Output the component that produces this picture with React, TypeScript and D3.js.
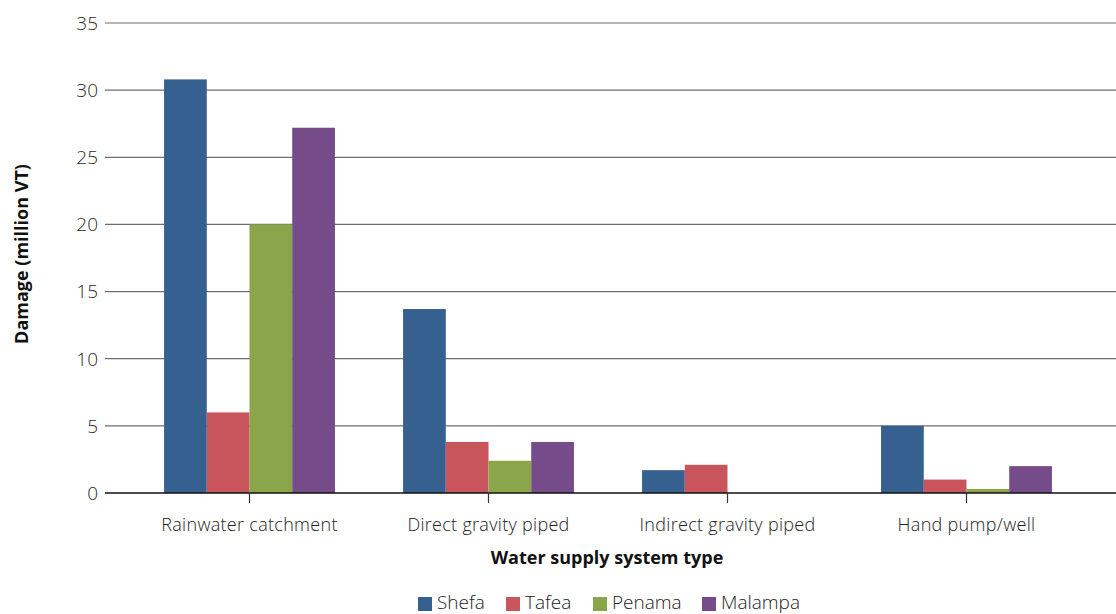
import React from "react";
import * as d3 from "d3";

const categories = [
  "Rainwater catchment",
  "Direct gravity piped",
  "Indirect gravity piped",
  "Hand pump/well",
];
const seriesNames = ["Shefa", "Tafea", "Penama", "Malampa"];
const shefa = [30.8, 13.7, 1.7, 5.0];
const tafea = [6.0, 3.8, 2.1, 1.0];
const penama = [20.0, 2.4, 0, 0.3];
const malampa = [27.2, 3.8, 0, 2.0];
const yTicks = [0, 5, 10, 15, 20, 25, 30, 35];
const colors = ["#36608f", "#c8555c", "#8ba64a", "#754b8a"];

const seriesValues = [shefa, tafea, penama, malampa];

const W = 1116;
const H = 614;
const gridLeft = 105;
const gridRight = 1116;
const plotTop = 23;
const plotBottom = 493;

export default function App() {
  const x0 = d3
    .scaleBand<string>()
    .domain(categories)
    .range([130, 1086])
    .paddingInner(0)
    .paddingOuter(0);
  const groupWidth = x0.bandwidth() * 0.715;
  const x1 = d3
    .scaleBand<string>()
    .domain(seriesNames)
    .range([0, groupWidth])
    .padding(0);
  const y = d3.scaleLinear().domain([0, 35]).range([plotBottom, plotTop]);

  const bodyFont = "'Open Sans', 'Noto Sans', sans-serif";

  return (
    <svg
      width={W}
      height={H}
      style={{ position: "absolute", left: 0, top: 0, background: "#fff" }}
      fontFamily={bodyFont}
    >
      {/* horizontal gridlines and value labels */}
      {yTicks.map((t) => (
        <g key={t}>
          {t !== 0 && (
            <line
              x1={gridLeft}
              x2={gridRight}
              y1={y(t)}
              y2={y(t)}
              stroke="#6f6f6f"
              strokeWidth={1.2}
            />
          )}
          <text
            x={98}
            y={y(t)}
            dy="0.36em"
            textAnchor="end"
            fontSize={19}
            fill="#2a2a2a"
            fontWeight={300}
          >
            {t}
          </text>
        </g>
      ))}

      {/* bars */}
      {categories.map((c, ci) => {
        const cx = (x0(c) as number) + x0.bandwidth() / 2;
        const gx = cx - groupWidth / 2;
        return (
          <g key={c} transform={`translate(${gx},0)`}>
            {seriesNames.map((s, si) => {
              const v = seriesValues[si][ci];
              return (
                <rect
                  key={s}
                  x={x1(s) as number}
                  width={x1.bandwidth()}
                  y={y(v)}
                  height={y(0) - y(v)}
                  fill={colors[si]}
                />
              );
            })}
          </g>
        );
      })}

      {/* baseline and category ticks */}
      <line
        x1={gridLeft}
        x2={gridRight}
        y1={y(0)}
        y2={y(0)}
        stroke="#111"
        strokeWidth={1.3}
      />
      {categories.map((c) => {
        const cx = (x0(c) as number) + x0.bandwidth() / 2;
        return (
          <g key={c}>
            <line
              x1={cx}
              x2={cx}
              y1={y(0)}
              y2={y(0) + 10}
              stroke="#333"
              strokeWidth={1.2}
            />
            <text
              x={cx}
              y={531}
              textAnchor="middle"
              fontSize={18}
              fill="#222"
              fontWeight={300}
              letterSpacing={0.3}
            >
              {c}
            </text>
          </g>
        );
      })}

      {/* axis titles */}
      <text
        x={607}
        y={564}
        textAnchor="middle"
        fontSize={18}
        fontWeight={700}
        fill="#111"
      >
        Water supply system type
      </text>
      <text
        transform={`translate(28,254) rotate(-90)`}
        textAnchor="middle"
        fontSize={18}
        fontWeight={700}
        fill="#111"
      >
        Damage (million VT)
      </text>

      {/* legend */}
      {seriesNames.map((s, i) => {
        const lx = [418, 506, 593, 702][i];
        return (
          <g key={s}>
            <rect x={lx} y={597} width={14} height={14} fill={colors[i]} />
            <text x={lx + 19} y={609} fontSize={19} fill="#222" fontWeight={300}>
              {s}
            </text>
          </g>
        );
      })}
    </svg>
  );
}
